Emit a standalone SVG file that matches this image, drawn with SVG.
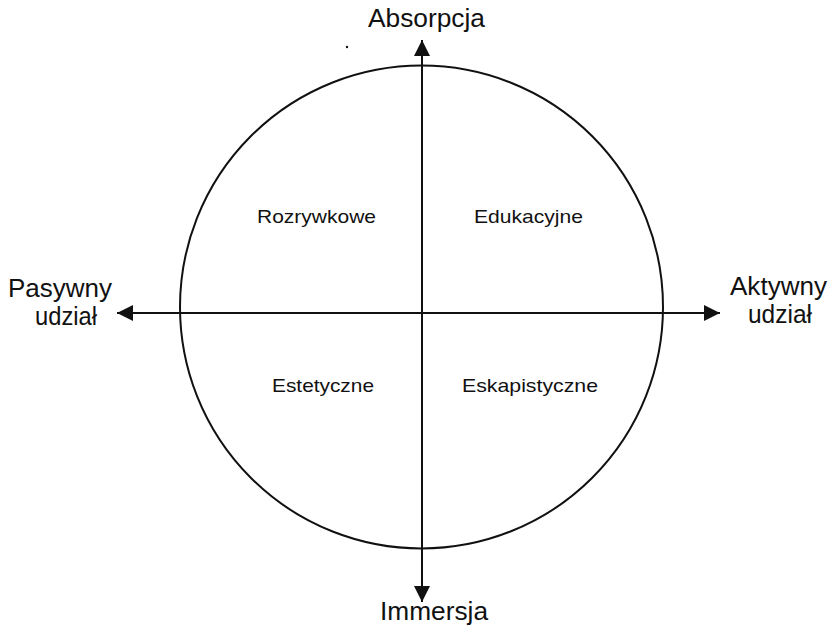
<svg xmlns="http://www.w3.org/2000/svg" width="831" height="626" viewBox="0 0 831 626">
  <style>
    text { font-family: "Liberation Sans", Arial, sans-serif; fill: #111; }
    .axis { font-size: 25px; }
    .quad { font-size: 19px; }
    .line { stroke: #111; stroke-width: 2; fill: none; }
  </style>
  <defs>
    <marker id="arrow" viewBox="0 0 10 10" refX="10" refY="5" markerWidth="9" markerHeight="8" markerUnits="strokeWidth" orient="auto">
      <path d="M0,0 L10,5 L0,10 Z" fill="#111"/>
    </marker>
  </defs>
  <rect width="831" height="626" fill="#fff"/>
  <g id="circle">
    <circle cx="421.5" cy="307" r="241.5" class="line"/>
  </g>
  <g id="connectors">
    <line x1="422" y1="313" x2="422" y2="40" class="line" marker-end="url(#arrow)"/>
    <line x1="422" y1="313" x2="422" y2="602" class="line" marker-end="url(#arrow)"/>
    <line x1="422" y1="313" x2="117" y2="313" class="line" marker-end="url(#arrow)"/>
    <line x1="422" y1="313" x2="720" y2="313" class="line" marker-end="url(#arrow)"/>
  </g>
  <g id="absorpcja"><text class="axis" x="368" y="27" textLength="117" lengthAdjust="spacingAndGlyphs">Absorpcja</text></g>
  <g id="immersja"><text class="axis" x="380" y="620" textLength="108" lengthAdjust="spacingAndGlyphs">Immersja</text></g>
  <g id="pasywny">
    <text class="axis" x="8" y="297" textLength="104" lengthAdjust="spacingAndGlyphs">Pasywny</text>
    <text class="axis" x="35" y="325" textLength="62" lengthAdjust="spacingAndGlyphs">udział</text>
  </g>
  <g id="aktywny">
    <text class="axis" x="730" y="295" textLength="97" lengthAdjust="spacingAndGlyphs">Aktywny</text>
    <text class="axis" x="748" y="323" textLength="64" lengthAdjust="spacingAndGlyphs">udział</text>
  </g>
  <g id="rozrywkowe"><text class="quad" x="257" y="223" textLength="119" lengthAdjust="spacingAndGlyphs">Rozrywkowe</text></g>
  <g id="edukacyjne"><text class="quad" x="474" y="223" textLength="109" lengthAdjust="spacingAndGlyphs">Edukacyjne</text></g>
  <g id="estetyczne"><text class="quad" x="272" y="392" textLength="102" lengthAdjust="spacingAndGlyphs">Estetyczne</text></g>
  <g id="eskapistyczne"><text class="quad" x="462" y="392" textLength="136" lengthAdjust="spacingAndGlyphs">Eskapistyczne</text></g>
  <circle cx="347" cy="47" r="1.2" fill="#111"/>
</svg>
